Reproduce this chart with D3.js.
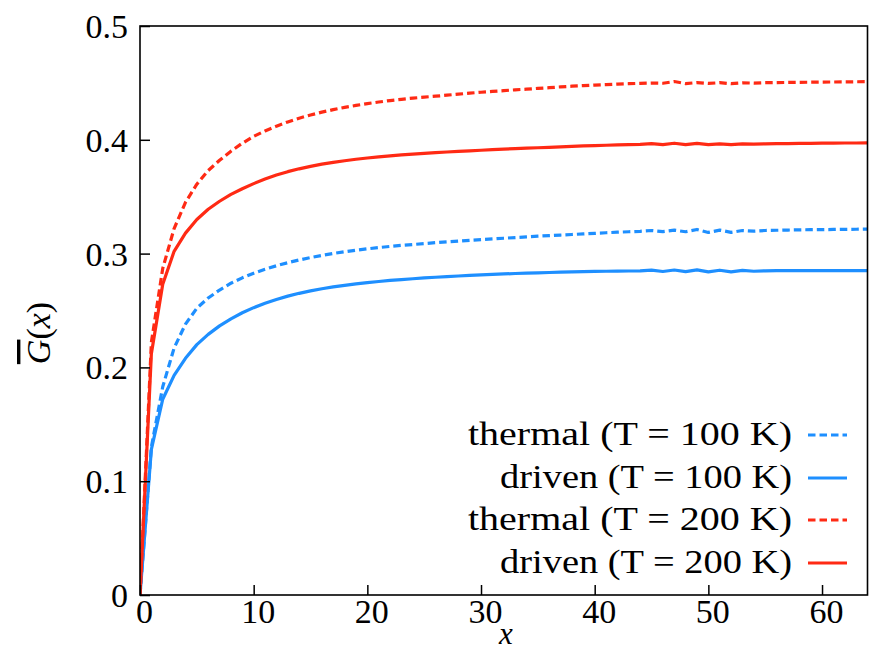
<!DOCTYPE html>
<html>
<head>
<meta charset="utf-8">
<script src="https://cdn.jsdelivr.net/npm/d3@7"></script>
<style>
  html, body { margin: 0; padding: 0; background: #fff; }
  svg { display: block; }
  text { font-family: "Liberation Serif", "Times New Roman", serif; fill: #000; }
</style>
</head>
<body>
<svg id="chart" width="872" height="652"></svg>
<script>
// ---- data ----
const xValues = [0,1,2,3,4,5,6,7,8,9,10,11,12,13,14,15,16,17,18,19,20,21,22,23,24,25,26,27,28,29,30,31,32,33,34,35,36,37,38,39,40,41,42,43,44,45,46,47,48,49,50,51,52,53,54,55,56,57,58,59,60,61,62,63,64];

const thermal100 = [0,0.130,0.183,0.217,0.238,0.252,0.261,0.268,0.274,0.2787,0.2827,0.2862,0.2893,0.2920,0.2944,0.2965,0.2984,0.3001,0.3016,0.3030,0.3042,0.3053,0.3063,0.3072,0.3080,0.3088,0.3096,0.3103,0.3110,0.3117,0.3123,0.3129,0.3135,0.3141,0.3147,0.3153,0.3158,0.3163,0.3168,0.3173,0.3178,0.3183,0.3188,0.3192,0.3196,0.3203,0.3193,0.3206,0.3192,0.3212,0.3186,0.3206,0.3187,0.3203,0.3197,0.3203,0.3205,0.3207,0.3209,0.3210,0.3211,0.3212,0.3213,0.3214,0.3215];

const driven100 = [0,0.128,0.172,0.193,0.208,0.220,0.229,0.2365,0.2427,0.2480,0.2525,0.2563,0.2597,0.2626,0.2651,0.2672,0.2691,0.2707,0.2721,0.2734,0.2745,0.2755,0.2764,0.2772,0.2779,0.2786,0.2792,0.2798,0.2803,0.2808,0.2813,0.2817,0.2821,0.2825,0.2828,0.2831,0.2834,0.2837,0.2839,0.2841,0.2843,0.2845,0.2846,0.2847,0.2848,0.2855,0.2843,0.2856,0.2842,0.2857,0.2839,0.2854,0.2840,0.2852,0.2845,0.2849,0.2850,0.2850,0.2850,0.2850,0.2850,0.2850,0.2850,0.2850,0.2850];

const thermal200 = [0,0.222,0.287,0.322,0.345,0.361,0.373,0.382,0.390,0.397,0.403,0.4078,0.4120,0.4157,0.4190,0.4218,0.4243,0.4265,0.4285,0.4302,0.4318,0.4332,0.4345,0.4356,0.4366,0.4375,0.4383,0.4392,0.4401,0.4410,0.4418,0.4425,0.4432,0.4439,0.4445,0.4452,0.4458,0.4465,0.4471,0.4476,0.4481,0.4485,0.4489,0.4493,0.4496,0.4499,0.4497,0.4512,0.4494,0.4503,0.4495,0.4502,0.4493,0.4501,0.4498,0.4502,0.4503,0.4504,0.4505,0.4506,0.4507,0.4508,0.4509,0.4510,0.4511];

const driven200 = [0,0.212,0.273,0.302,0.318,0.330,0.339,0.346,0.352,0.357,0.3615,0.3655,0.3690,0.3720,0.3745,0.3767,0.3786,0.3802,0.3816,0.3829,0.3840,0.3850,0.3859,0.3867,0.3874,0.3881,0.3887,0.3893,0.3898,0.3903,0.3908,0.3913,0.3918,0.3922,0.3926,0.3930,0.3934,0.3938,0.3942,0.3946,0.3949,0.3952,0.3955,0.3958,0.3960,0.3966,0.3958,0.3970,0.3957,0.3968,0.3958,0.3965,0.3957,0.3964,0.3962,0.3965,0.3966,0.3967,0.3968,0.3969,0.3970,0.3971,0.3972,0.3972,0.3973];

const seriesNames = ["thermal (T = 100 K)", "driven (T = 100 K)", "thermal (T = 200 K)", "driven (T = 200 K)"];
const xTicks = [0, 10, 20, 30, 40, 50, 60];
const yTicks = [0, 0.1, 0.2, 0.3, 0.4, 0.5];
const yTickLabels = ["0", "0.1", "0.2", "0.3", "0.4", "0.5"];

// ---- styles ----
const BLUE = "#1e8fff";
const RED = "#ff2a14";
const series = [
  { name: seriesNames[0], values: thermal100, color: BLUE, dash: "7.5,4" },
  { name: seriesNames[1], values: driven100,  color: BLUE, dash: null },
  { name: seriesNames[2], values: thermal200, color: RED,  dash: "7.5,4" },
  { name: seriesNames[3], values: driven200,  color: RED,  dash: null }
];

const svg = d3.select("#chart");
const L = 140, R = 867.5, T = 26, B = 595;
const x = d3.scaleLinear().domain([0, 64]).range([L, R]);
const y = d3.scaleLinear().domain([0, 0.5]).range([B, T]);

svg.append("defs").append("clipPath").attr("id", "plotclip")
  .append("rect").attr("x", L).attr("y", T).attr("width", R - L).attr("height", B - T);

const line = d3.line().x(d => x(d[0])).y(d => y(d[1]));

const gLines = svg.append("g").attr("clip-path", "url(#plotclip)");
series.forEach(s => {
  gLines.append("path")
    .datum(xValues.map((xv, i) => [xv, s.values[i]]))
    .attr("d", line)
    .attr("fill", "none")
    .attr("stroke", s.color)
    .attr("stroke-width", 3.2)
    .attr("stroke-linejoin", "round")
    .attr("stroke-dasharray", s.dash);
});

// axes (ticks inward)
const xAxis = d3.axisBottom(x).tickValues(xTicks).tickSize(-10).tickPadding(0).tickFormat(d3.format("d"));
const gx = svg.append("g").attr("transform", `translate(0,${B})`).call(xAxis);
gx.select(".domain").remove();
gx.selectAll(".tick line").attr("stroke", "#000").attr("stroke-width", 1.5);
gx.selectAll(".tick text")
  .attr("font-family", "Liberation Serif, serif")
  .attr("font-size", 34)
  .attr("fill", "#000")
  .attr("dx", 4)
  .attr("y", 28)
  .attr("dy", 0);

const yAxis = d3.axisLeft(y).tickValues(yTicks).tickSize(-10).tickPadding(0).tickFormat((d, i) => yTickLabels[i]);
const gy = svg.append("g").attr("transform", `translate(${L},0)`).call(yAxis);
gy.select(".domain").remove();
gy.selectAll(".tick line").attr("stroke", "#000").attr("stroke-width", 1.5);
gy.selectAll(".tick text")
  .attr("font-family", "Liberation Serif, serif")
  .attr("font-size", 34)
  .attr("fill", "#000")
  .attr("x", -12)
  .attr("dy", "0.34em");

// frame
svg.append("rect").attr("x", L).attr("y", T).attr("width", R - L).attr("height", B - T)
  .attr("fill", "none").attr("stroke", "#000").attr("stroke-width", 1.6);

// axis labels
svg.append("text").attr("x", 506).attr("y", 644).attr("text-anchor", "middle")
  .attr("font-size", 31).attr("font-style", "italic").text("x");

const yl = svg.append("text").attr("transform", "translate(50,333) rotate(-90)")
  .attr("text-anchor", "middle").attr("font-size", 34);
yl.append("tspan").attr("font-style", "italic").style("text-decoration", "overline").text("G");
yl.append("tspan").text("(");
yl.append("tspan").attr("font-style", "italic").text("x");
yl.append("tspan").text(")");

// legend
const legendRows = [435, 478, 520, 563];
const legendWidths = [324, 292, 324, 292];
const gLeg = svg.append("g");
series.forEach((s, i) => {
  const cy = legendRows[i];
  gLeg.append("text").attr("x", 792).attr("y", cy + 10).attr("text-anchor", "end")
    .attr("font-size", 33)
    .attr("textLength", legendWidths[i])
    .attr("lengthAdjust", "spacingAndGlyphs")
    .text(s.name);
  gLeg.append("line").attr("x1", 808).attr("x2", 847).attr("y1", cy).attr("y2", cy)
    .attr("stroke", s.color).attr("stroke-width", 3.2).attr("stroke-dasharray", s.dash);
});
</script>
</body>
</html>
